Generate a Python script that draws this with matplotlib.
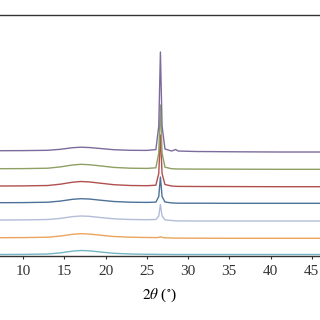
import matplotlib
matplotlib.use("Agg")
import matplotlib.pyplot as plt

plt.rcParams['font.family'] = ['Liberation Serif', 'DejaVu Serif']
plt.rcParams['mathtext.fontset'] = 'stix'

# 2theta sample positions (deg)
two_theta = [7, 10, 13, 14.5, 16, 17, 18, 19.5, 21, 23, 25, 26.1, 26.45, 26.65,
             26.85, 27.2, 28, 28.5, 28.8, 31, 36, 41, 46]

# intensities (offset, arbitrary units), bottom to top
cyan_y = [1.5, 1.6, 2.0, 3.1, 4.9, 5.5, 5.2, 3.9, 2.7, 2.0, 1.7, 1.7, 1.6, 1.6,
          1.6, 1.6, 1.5, 1.5, 1.5, 1.5, 1.5, 1.5, 1.5]
orange_y = [18.3, 18.4, 18.8, 19.9, 21.7, 22.3, 22.0, 20.7, 19.5, 18.8, 18.5, 18.4,
            18.6, 19.2, 18.6, 18.2, 18.0, 17.9, 17.9, 17.8, 17.7, 17.7, 17.7]
lavender_y = [36.0, 36.1, 36.5, 37.6, 39.4, 40.0, 39.7, 38.4, 37.2, 36.5, 36.3, 36.5,
              40.0, 51.5, 40.0, 36.2, 35.5, 35.2, 35.1, 35.0, 35.0, 35.0, 35.0]
blue_y = [53.3, 53.4, 53.8, 54.9, 56.7, 57.3, 57.0, 55.7, 54.5, 53.8, 53.6, 53.9,
          59.5, 79.0, 59.5, 54.0, 53.1, 52.9, 52.8, 52.8, 52.7, 52.7, 52.7]
red_y = [70.0, 70.1, 70.5, 71.8, 73.8, 74.5, 74.1, 72.7, 71.3, 70.5, 70.3, 70.8,
         82.5, 121.0, 82.5, 71.5, 70.0, 69.7, 69.6, 69.5, 69.4, 69.3, 69.3]
green_y = [87.3, 87.4, 87.8, 89.1, 91.0, 91.7, 91.3, 90.0, 88.6, 87.8, 87.6, 88.2,
           103.0, 151.0, 103.0, 88.8, 87.3, 87.1, 87.0, 86.9, 86.8, 86.7, 86.7]
purple_y = [105.3, 105.4, 105.7, 106.7, 108.3, 108.8, 108.5, 107.4, 106.3, 105.7, 105.6,
            106.4, 130.0, 204.0, 130.0, 107.0, 105.0, 106.5, 105.0, 104.5, 104.2, 104.0, 104.0]

series = [cyan_y, orange_y, lavender_y, blue_y, red_y, green_y, purple_y]
colors = ['#72b6c4', '#eaa45e', '#b3bcd9', '#4d7299', '#b0504e', '#8ea063', '#7d6b9e']

xticks = [10, 15, 20, 25, 30, 35, 40, 45]

fig = plt.figure(figsize=(3.2, 3.2), dpi=100)
ax = fig.add_axes([0.0, 0.2, 1.0, 0.754])

for y, c in zip(series, colors):
    ax.plot(two_theta, y, color=c, lw=1.0)

ax.set_xlim(7.2, 46.0)
ax.set_ylim(0, 241.3)
ax.set_xticks(xticks)
ax.set_yticks([])
ax.spines['left'].set_visible(False)
ax.spines['right'].set_visible(False)
for s in ['top', 'bottom']:
    ax.spines[s].set_color('#333333')
    ax.spines[s].set_linewidth(1.0)
ax.tick_params(axis='x', direction='out', length=2.5, width=0.8, labelsize=11,
               pad=4, colors='#333333')
ax.set_xlabel(r'$2\theta$ ($^{\circ}$)', fontsize=11, labelpad=6)

plt.savefig("out.png", dpi=100)
